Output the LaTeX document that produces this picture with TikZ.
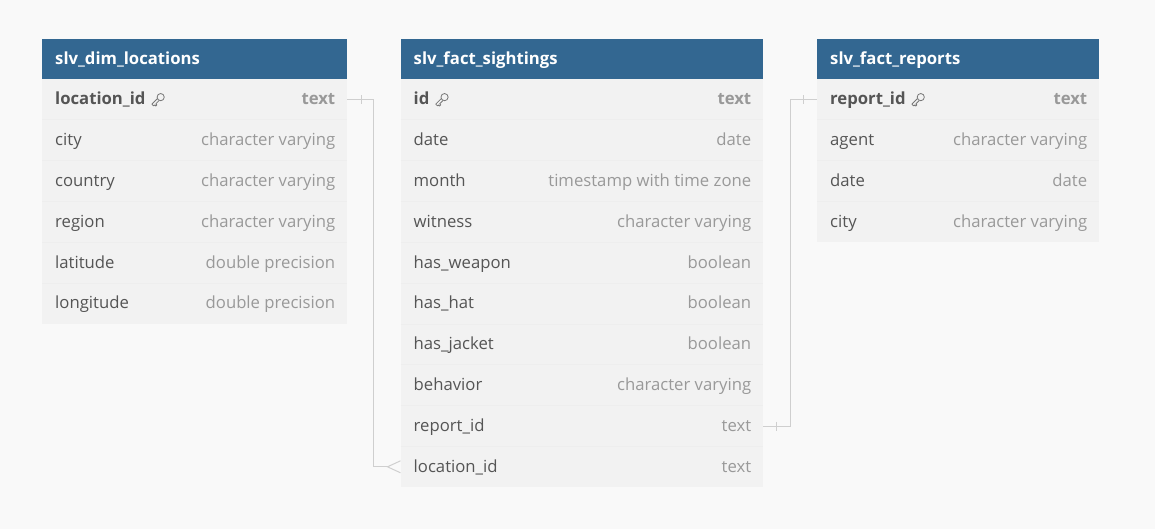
\documentclass[tikz,border=0pt]{standalone}
\usepackage{fontspec}
\setmainfont{Open Sans}
\usetikzlibrary{positioning}

\definecolor{pagebg}{HTML}{F9F9F9}
\definecolor{headblue}{HTML}{336791}
\definecolor{rowbg}{HTML}{F2F2F2}
\definecolor{rowline}{HTML}{EEEEEE}
\definecolor{namegray}{HTML}{555555}
\definecolor{typegray}{HTML}{999999}
\definecolor{linkgray}{HTML}{CFCFCF}

\newcommand{\colfont}{\fontsize{16.7}{20}\selectfont}

\tikzset{
  headbox/.style={fill=headblue, anchor=north west, minimum height=40pt, inner sep=0pt},
  headtext/.style={anchor=west, text=white, font=\bfseries\colfont, inner sep=0pt, text height=14pt, text depth=2.5pt},
  rowbox/.style={fill=rowbg, anchor=north west, minimum height=40.8pt, inner sep=0pt},
  colname/.style={anchor=west, text=namegray, font=\colfont, inner sep=0pt, text height=13pt, text depth=2.5pt},
  coltype/.style={anchor=east, text=typegray, font=\colfont, inner sep=0pt, text height=13pt, text depth=2.5pt},
  link/.style={draw=linkgray, line width=1pt},
  keyicon/.pic={
    \begin{scope}[rotate=45, draw=namegray!80, line width=0.8pt, line join=round]
      \draw (4.2,0) circle (3.6);
      \draw (0.7,-1.3) -- (-7,-1.3) -- (-7,1.3) -- (-5.6,1.3) -- (-5.6,2.8)
        -- (-4,2.8) -- (-4,1.3) -- (0.7,1.3);
    \end{scope}
  }
}

% tabla: prefijo, x, ancho, titulo, clave, demas columnas
\newcommand{\ertable}[6]{%
  \node[headbox, minimum width=#3pt] (#1-head) at (#2,39) {};
  \node[headtext] (#1-title) at ([xshift=13pt]#1-head.west) {#4};
  \node[rowbox, minimum width=#3pt] (#1-r1) at (#2,79) {};
  \node[colname, font=\bfseries\colfont] (#1-n1) at ([xshift=13pt]#1-r1.west) {#5};
  \pic at ([xshift=12pt,yshift=-0.5pt]#1-n1.east) {keyicon};
  \node[coltype, font=\bfseries\colfont] (#1-t1) at ([xshift=-12pt]#1-r1.east) {text};
  \foreach \n/\t [count=\i from 2] in {#6} {
    \node[rowbox, minimum width=#3pt] (#1-r\i) at (#2,{79+40.8*(\i-1)}) {};
    \draw[rowline, line width=0.6pt] (#1-r\i.north west) -- (#1-r\i.north east);
    \node[colname] (#1-n\i) at ([xshift=13pt]#1-r\i.west) {\n};
    \node[coltype] (#1-t\i) at ([xshift=-12pt]#1-r\i.east) {\t};
  }
}

\begin{document}
\begin{tikzpicture}[x=1pt,y=-1pt]
  \useasboundingbox[fill=pagebg] (0,0) rectangle (1155,529);
  % tablas
  \ertable{loc}{42}{305}{slv\_dim\_locations}{location\_id}{%
    city/character varying, country/character varying, region/character varying,
    latitude/double precision, longitude/double precision}
  \ertable{sight}{400.5}{362.5}{slv\_fact\_sightings}{id}{%
    date/date, month/timestamp with time zone, witness/character varying,
    has\_weapon/boolean, has\_hat/boolean, has\_jacket/boolean,
    behavior/character varying, report\_id/text, location\_id/text}
  \ertable{rep}{817}{282}{slv\_fact\_reports}{report\_id}{%
    agent/character varying, date/date, city/character varying}
  % location_id -> location_id (uno a muchos)
  \coordinate (foot) at ([xshift=-13pt]sight-r10.west);
  \draw[link] (loc-r1.east) -- ++(26,0) |- (foot);
  \draw[link] ([xshift=14pt]loc-r1.east) +(0,-4.5) -- +(0,4.5);
  \draw[link] ([yshift=6pt]sight-r10.west) -- (foot) -- ([yshift=-6pt]sight-r10.west);
  % report_id -> report_id (uno a uno)
  \draw[link] (sight-r9.east) -- ++(27,0) |- (rep-r1.west);
  \draw[link] ([xshift=13pt]sight-r9.east) +(0,-4.5) -- +(0,4.5);
  \draw[link] ([xshift=-14pt]rep-r1.west) +(0,-4.5) -- +(0,4.5);
\end{tikzpicture}
\end{document}
